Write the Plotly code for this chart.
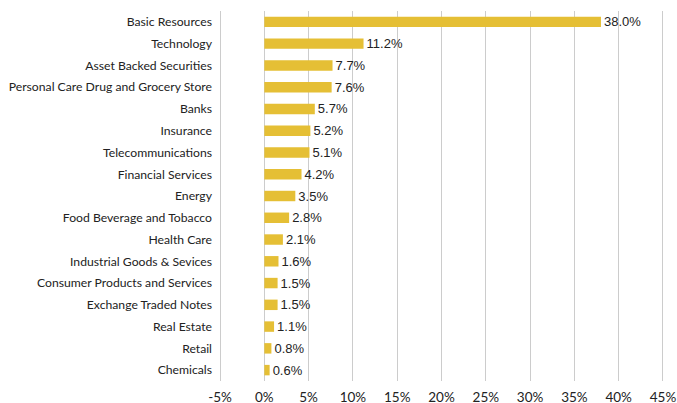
import plotly.graph_objects as go

categories = ["Basic Resources", "Technology", "Asset Backed Securities",
              "Personal Care Drug and Grocery Store", "Banks", "Insurance",
              "Telecommunications", "Financial Services", "Energy",
              "Food Beverage and Tobacco", "Health Care", "Industrial Goods & Sevices",
              "Consumer Products and Services", "Exchange Traded Notes",
              "Real Estate", "Retail", "Chemicals"]
values = [38.0, 11.2, 7.7, 7.6, 5.7, 5.2, 5.1, 4.2, 3.5, 2.8, 2.1, 1.6, 1.5, 1.5, 1.1, 0.8, 0.6]
tick_vals = [-5, 0, 5, 10, 15, 20, 25, 30, 35, 40, 45]
tick_text = [f"{v}%" for v in tick_vals]

fig = go.Figure(go.Bar(
    y=categories, x=values, orientation="h",
    marker=dict(color="#E5BF35", line=dict(width=0)),
    text=[f"{v:.1f}%" for v in values], textposition="outside",
    constraintext="none",
    textfont=dict(family="Liberation Sans, Arial", size=13, color="#222222"),
    cliponaxis=False,
))
fig.update_layout(
    width=677, height=403,
    margin=dict(l=217, r=11, t=11, b=22),
    paper_bgcolor="white", plot_bgcolor="white",
    bargap=0.52,
    showlegend=False,
    font=dict(family="Lato, Open Sans, sans-serif", size=12, color="#222222"),
)
fig.update_xaxes(range=[-5.34, 45.34], tickvals=tick_vals, ticktext=tick_text,
                 showgrid=True, gridcolor="#cccccc", gridwidth=1.2,
                 zeroline=True, zerolinecolor="#cccccc", zerolinewidth=1.2,
                 showline=False, tickfont=dict(size=13.5, family="Lato, sans-serif"),
                 ticks="", ticklabelstandoff=6, automargin=False)
fig.update_yaxes(autorange="reversed", showgrid=False, showline=False,
                 ticks="", tickfont=dict(size=12.2, family="Lato, sans-serif"),
                 ticklabelstandoff=4, automargin=False)
fig.write_html("out.html")
